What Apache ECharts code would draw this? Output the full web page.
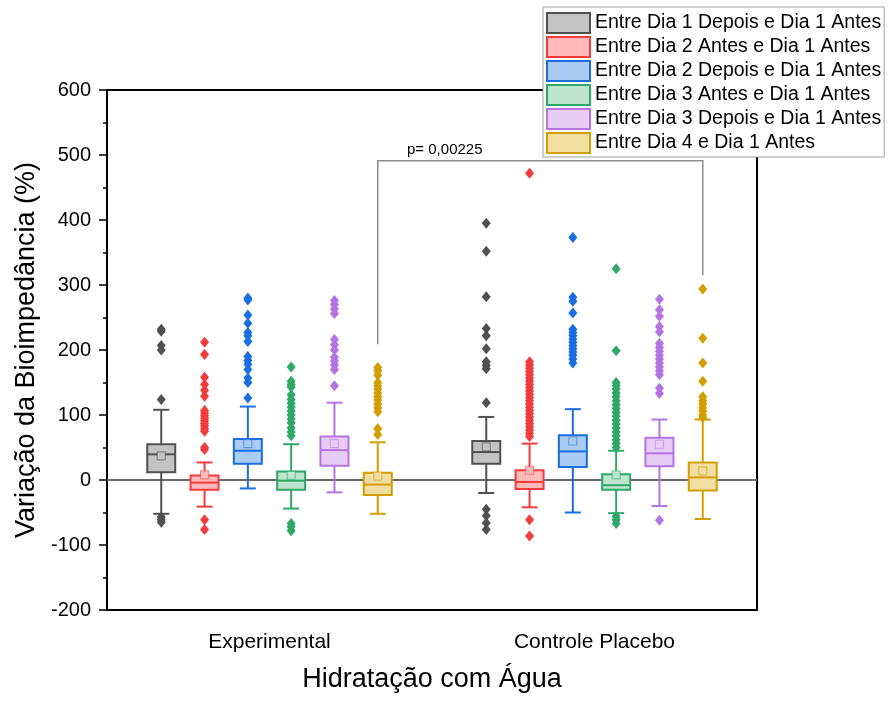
<!DOCTYPE html>
<html>
<head>
<meta charset="utf-8">
<script src="https://cdn.jsdelivr.net/npm/echarts@6/dist/echarts.min.js"></script>
<style>html,body{margin:0;padding:0;background:#fff}#c{width:888px;height:705px}</style>
</head>
<body>
<div id="c"></div>
<script>
// ---------- data ----------
const categories = ['Experimental', 'Controle Placebo'];
const seriesNames = [
  'Entre Dia 1 Depois e Dia 1 Antes',
  'Entre Dia 2 Antes e Dia 1 Antes',
  'Entre Dia 2 Depois e Dia 1 Antes',
  'Entre Dia 3 Antes e Dia 1 Antes',
  'Entre Dia 3 Depois e Dia 1 Antes',
  'Entre Dia 4 e Dia 1 Antes'
];
// [lower whisker, Q1, median, Q3, upper whisker]
const boxExperimental = [
  [-52, 12, 39.5, 55, 108],
  [-41, -15, -4, 7, 27],
  [-13, 25, 45, 63, 113],
  [-44, -15, -1, 13, 55],
  [-19, 22, 46, 67, 119],
  [-52, -23, -7, 11, 58]
];
const boxPlacebo = [
  [-20, 25, 43, 60, 97],
  [-42, -14, -3, 15, 56],
  [-50, 20, 44, 69, 109],
  [-51, -15, -8, 9, 45],
  [-40, 21, 41, 65, 93],
  [-60, -16, 4, 27, 93]
];
const meanExperimental = [37, 8, 56, 7, 56, 6];
const meanPlacebo = [51, 15, 60, 8, 55, 14];
const outliersExperimental = [
  [232, 229, 207, 200, 124, -57, -61, -65],
  [212, 193, 158, 147, 138, 129, 107, 103, 99, 95, 91, 87, 83, 79, 75, 50, 47, -61, -76],
  [280, 277, 254, 241, 227, 222, 213, 190, 184, 178, 170, 157, 150, 126],
  [174, 152, 147, 143, 131, 124, 118, 112, 106, 100, 94, 88, 80, 74, 68, -67, -72, -78],
  [276, 270, 263, 256, 216, 208, 200, 189, 183, 177, 170, 145],
  [173, 168, 161, 150, 145, 140, 134, 128, 123, 117, 111, 105, 79, 70]
];
const outliersPlacebo = [
  [395, 352, 282, 233, 222, 202, 182, 176, 171, 119, -45, -55, -66, -76],
  [472, 182, 177, 172, 167, 162, 157, 152, 147, 142, 137, 132, 127, 122, 117, 112, 107, 102, 97, 92, 87, 82, 77, 72, 67, -61, -86],
  [373, 281, 275, 257, 232, 227, 222, 217, 212, 207, 202, 197, 192, 186, 180],
  [325, 199, 150, 145, 140, 134, 128, 122, 116, 110, 104, 98, 92, 86, 80, 74, 68, 62, 56, 50, -56, -61, -67],
  [278, 262, 252, 236, 228, 210, 204, 198, 192, 186, 180, 174, 168, 162, 141, 133, -62],
  [294, 218, 180, 152, 128, 122, 117, 111, 106, 100, 96]
];
// significance bracket: [left end, top, right end] values, and label
const bracketValues = [209, 491, 315];
const bracketLabel = 'p= 0,00225';

// ---------- style ----------
const FONT = 'Liberation Sans, Arial, sans-serif';
const strokeColors = ['#505050', '#f03c3c', '#1b6ee0', '#2ea866', '#b574e0', '#d29e00'];
const fillColors = ['#c3c3c3', '#ffbaba', '#a9cbf4', '#bfe5cf', '#e7cdf6', '#f0dea2'];
const meanBorders = ['rgba(80,80,80,0.55)', 'rgba(240,60,60,0.5)', 'rgba(27,110,224,0.5)', 'rgba(46,168,102,0.5)', 'rgba(181,116,224,0.5)', 'rgba(210,158,0,0.5)'];
const GAP = 43.3;      // pixel distance between neighbouring boxes
const HALF_BOX = 14;   // half box width (px)
const HALF_CAP = 8;    // half whisker cap width (px)

const series = [];

// zero reference line
series.push({
  type: 'custom', name: '_zero', z: 1, silent: true,
  data: [[0, 0]],
  encode: { x: 0, y: 1 },
  renderItem: function (params, api) {
    const cs = params.coordSys;
    const y = api.coord([0, api.value(1)])[1];
    return { type: 'line', shape: { x1: cs.x, y1: y, x2: cs.x + cs.width, y2: y },
      style: { stroke: '#8c8c8c', lineWidth: 1.5 } };
  }
});

seriesNames.forEach(function (name, i) {
  const off = (i - 2.5) * GAP;
  const boxData = [[0].concat(boxExperimental[i]), [1].concat(boxPlacebo[i])];
  series.push({
    type: 'custom', name: name, z: 2,
    data: boxData,
    encode: { x: 0, y: [1, 2, 3, 4, 5] },
    itemStyle: { color: fillColors[i], borderColor: strokeColors[i] },
    renderItem: function (params, api) {
      const cat = api.value(0);
      const x = api.coord([cat, 0])[0] + off;
      const Y = function (k) { return api.coord([cat, api.value(k)])[1]; };
      const lo = Y(1), q1 = Y(2), med = Y(3), q3 = Y(4), hi = Y(5);
      const ls = { stroke: strokeColors[i], lineWidth: 2 };
      return { type: 'group', children: [
        { type: 'line', shape: { x1: x, y1: hi, x2: x, y2: q3 }, style: ls },
        { type: 'line', shape: { x1: x, y1: q1, x2: x, y2: lo }, style: ls },
        { type: 'line', shape: { x1: x - HALF_CAP, y1: hi, x2: x + HALF_CAP, y2: hi }, style: ls },
        { type: 'line', shape: { x1: x - HALF_CAP, y1: lo, x2: x + HALF_CAP, y2: lo }, style: ls },
        { type: 'rect', shape: { x: x - HALF_BOX, y: q3, width: 2 * HALF_BOX, height: q1 - q3 },
          style: { fill: fillColors[i], stroke: strokeColors[i], lineWidth: 2 } },
        { type: 'line', shape: { x1: x - HALF_BOX, y1: med, x2: x + HALF_BOX, y2: med }, style: ls }
      ] };
    }
  });
  const outData = outliersExperimental[i].map(function (v) { return [0, v]; })
    .concat(outliersPlacebo[i].map(function (v) { return [1, v]; }));
  series.push({
    type: 'scatter', name: name, z: 3,
    symbol: 'diamond', symbolSize: [9, 11], symbolOffset: [off, 0],
    itemStyle: { color: strokeColors[i], opacity: 1 },
    data: outData
  });
  series.push({
    type: 'scatter', name: name, z: 4,
    symbol: 'rect', symbolSize: 8, symbolOffset: [off, 0],
    itemStyle: { color: fillColors[i], borderColor: meanBorders[i], borderWidth: 1.2, opacity: 1 },
    data: [[0, meanExperimental[i]], [1, meanPlacebo[i]]]
  });
});

// significance bracket between the two last boxes
series.push({
  type: 'custom', name: '_bracket', z: 5, silent: true,
  data: [[0, 1].concat(bracketValues)],
  encode: { x: 0, y: [2, 3, 4] },
  renderItem: function (params, api) {
    const off = 2.5 * GAP;
    const xl = api.coord([api.value(0), 0])[0] + off;
    const xr = api.coord([api.value(1), 0])[0] + off;
    const yl = api.coord([0, api.value(2)])[1];
    const yt = api.coord([0, api.value(3)])[1];
    const yr = api.coord([0, api.value(4)])[1];
    return { type: 'group', children: [
      { type: 'polyline', shape: { points: [[xl, yl], [xl, yt], [xr, yt], [xr, yr]] },
        style: { stroke: '#8c8c8c', lineWidth: 1.5, fill: null } },
      { type: 'text', x: xl + 67, y: yt - 3,
        style: { text: bracketLabel, fill: '#000', font: '15px ' + FONT, align: 'center', verticalAlign: 'bottom' } }
    ] };
  }
});

const chart = echarts.init(document.getElementById('c'), null, { renderer: 'canvas' });
chart.setOption({
  animation: false,
  backgroundColor: '#fff',
  textStyle: { fontFamily: FONT },
  grid: { left: 107, right: 131, top: 90, bottom: 95, show: true, borderColor: '#000', borderWidth: 2, backgroundColor: 'transparent' },
  legend: {
    orient: 'vertical', left: 543, top: 7,
    padding: [5, 3, 3, 3], itemGap: 2, itemWidth: 43, itemHeight: 20,
    backgroundColor: '#fff', borderColor: '#a0a0a0', borderWidth: 1,
    textStyle: { fontFamily: FONT, fontSize: 19.5, color: '#000' },
    data: seriesNames.map(function (n, i) {
      return { name: n, icon: 'rect', itemStyle: { color: fillColors[i], borderColor: strokeColors[i], borderWidth: 2 } };
    })
  },
  xAxis: {
    type: 'category', data: categories,
    axisLine: { lineStyle: { color: '#000', width: 2 } },
    axisTick: { alignWithLabel: true, length: 7, lineStyle: { color: '#000', width: 1.5 } },
    axisLabel: { color: '#000', fontSize: 21, margin: 22, fontFamily: FONT },
    splitLine: { show: false },
    name: 'Hidratação com Água', nameLocation: 'middle', nameGap: 56,
    nameTextStyle: { color: '#000', fontSize: 27, fontFamily: FONT }
  },
  yAxis: {
    type: 'value', min: -200, max: 600, interval: 100,
    axisLine: { show: true, lineStyle: { color: '#000', width: 2 } },
    axisTick: { show: true, length: 8, lineStyle: { color: '#000', width: 1.5 } },
    minorTick: { show: true, splitNumber: 2, length: 4, lineStyle: { color: '#000', width: 1.5 } },
    axisLabel: { color: '#000', fontSize: 20, margin: 16, fontFamily: FONT },
    splitLine: { show: false },
    name: 'Variação da Bioimpedância (%)', nameLocation: 'middle', nameGap: 62,
    nameTextStyle: { color: '#000', fontSize: 27, fontFamily: FONT }
  },
  series: series
});
</script>
</body>
</html>
